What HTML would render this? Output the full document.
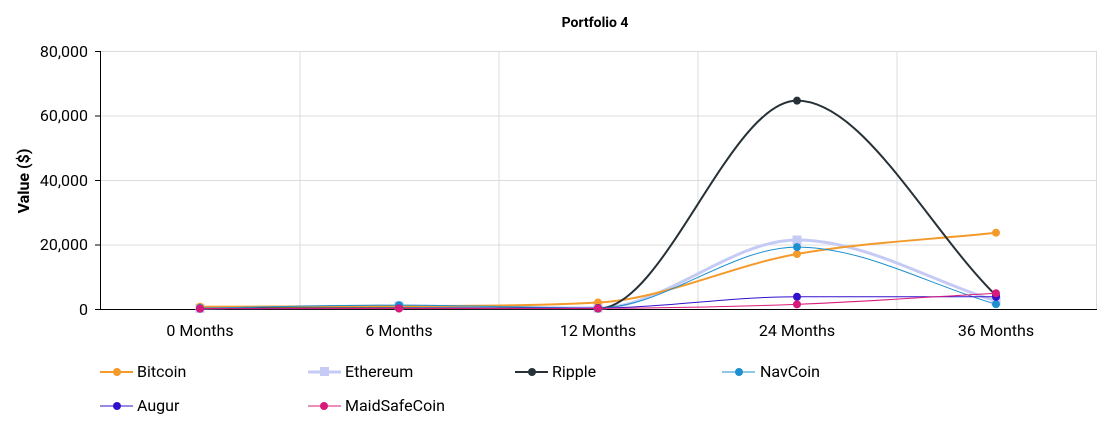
<!DOCTYPE html>
<html><head><meta charset="utf-8"><style>
body{margin:0;background:#fff;}
svg{display:block;font-family:"Roboto","Liberation Sans",sans-serif;}
</style></head><body>
<svg id="s" width="1114" height="434" xmlns="http://www.w3.org/2000/svg">
<text x="595" y="27" text-anchor="middle" font-size="14" font-weight="bold" fill="#000">Portfolio 4</text>
<text transform="translate(29,181) rotate(-90)" text-anchor="middle" font-size="16" font-weight="bold" fill="#000">Value ($)</text>
<g stroke="#dcdcdc" stroke-width="1">
<line x1="100" y1="51.5" x2="1097" y2="51.5"/>
<line x1="100" y1="116" x2="1097" y2="116"/>
<line x1="100" y1="180.5" x2="1097" y2="180.5"/>
<line x1="100" y1="245" x2="1097" y2="245"/>
<line x1="300" y1="51" x2="300" y2="309"/>
<line x1="499" y1="51" x2="499" y2="309"/>
<line x1="698" y1="51" x2="698" y2="309"/>
<line x1="897" y1="51" x2="897" y2="309"/>
<line x1="1096.5" y1="51" x2="1096.5" y2="309"/>
</g>
<g stroke="#000" stroke-width="1">
<line x1="100.5" y1="51" x2="100.5" y2="309.5"/>
<line x1="100" y1="309.5" x2="1097" y2="309.5"/>
<line x1="95" y1="51.5" x2="100" y2="51.5"/>
<line x1="95" y1="116" x2="100" y2="116"/>
<line x1="95" y1="180.5" x2="100" y2="180.5"/>
<line x1="95" y1="245" x2="100" y2="245"/>
<line x1="95" y1="309.5" x2="100" y2="309.5"/>
</g>
<g font-size="16" fill="#000" text-anchor="end">
<text x="88" y="57">80,000</text>
<text x="88" y="121">60,000</text>
<text x="88" y="186">40,000</text>
<text x="88" y="250">20,000</text>
<text x="88" y="315">0</text>
</g>
<g font-size="16" fill="#000" text-anchor="middle">
<text x="200" y="336">0 Months</text>
<text x="399" y="336">6 Months</text>
<text x="598" y="336">12 Months</text>
<text x="797" y="336">24 Months</text>
<text x="996" y="336">36 Months</text>
</g>
<g id="series"></g>
<g font-size="16" fill="#000">
<line x1="100" y1="372" x2="133" y2="372" stroke="#f39a2b" stroke-width="2"/><circle cx="117" cy="372" r="4" fill="#f39a2b"/><text x="137" y="377">Bitcoin</text>
<line x1="308" y1="372" x2="341" y2="372" stroke="#c5cbf5" stroke-width="3"/><rect x="320" y="367" width="9" height="9" fill="#c5cbf5"/><text x="345" y="377">Ethereum</text>
<line x1="515" y1="372" x2="548" y2="372" stroke="#263238" stroke-width="2"/><circle cx="532" cy="372" r="4" fill="#263238"/><text x="552" y="377">Ripple</text>
<line x1="722" y1="372" x2="755" y2="372" stroke="#1e90d0" stroke-width="1"/><circle cx="739" cy="372" r="4" fill="#1e90d0"/><text x="760" y="377">NavCoin</text>
<line x1="100" y1="406" x2="133" y2="406" stroke="#3311cc" stroke-width="1"/><circle cx="117" cy="406" r="4" fill="#3311cc"/><text x="137" y="411">Augur</text>
<line x1="308" y1="406" x2="341" y2="406" stroke="#d81b7a" stroke-width="1"/><circle cx="324" cy="406" r="4" fill="#d81b7a"/><text x="345" y="411">MaidSafeCoin</text>
</g>
</svg>
<script>
var xs=[200,399,598,797,996];
function Y(v){return 309-v*64.5/20000;}
var series=[
 {c:"#c5cbf5",w:3,d:[200,900,300,21400,2500],sq:1},
 {c:"#f39a2b",w:2,d:[700,900,2000,17050,23650]},
 {c:"#263238",w:2,d:[100,200,100,64600,4200]},
 {c:"#1e90d0",w:1,d:[300,1200,300,19200,1500]},
 {c:"#3311cc",w:1,d:[100,200,300,3800,3800]},
 {c:"#d81b7a",w:1,d:[100,150,200,1450,4900]}
];
var g=document.getElementById("series"),h="";
series.forEach(function(s){
 var p=s.d.map(function(v,i){return [xs[i],Y(v)];});
 var n=p.length,dx=199,del=[],m=[];
 for(var i=0;i<n-1;i++)del.push((p[i+1][1]-p[i][1])/dx);
 m[0]=del[0];m[n-1]=del[n-2];
 for(i=1;i<n-1;i++){m[i]=(del[i-1]*del[i]<=0)?0:(del[i-1]+del[i])/2;}
 for(i=0;i<n-1;i++){
  if(del[i]==0){m[i]=0;m[i+1]=0;continue;}
  var a=m[i]/del[i],b=m[i+1]/del[i],t=a*a+b*b;
  if(t>9){var k=3/Math.sqrt(t);m[i]=k*a*del[i];m[i+1]=k*b*del[i];}
 }
 var d="M"+p[0][0]+","+p[0][1];
 for(i=0;i<n-1;i++){
  var h3=dx/3;
  d+=" C"+(p[i][0]+h3)+","+(p[i][1]+m[i]*h3)+" "+(p[i+1][0]-h3)+","+(p[i+1][1]-m[i+1]*h3)+" "+p[i+1][0]+","+p[i+1][1];
 }
 h+='<path d="'+d+'" fill="none" stroke="'+s.c+'" stroke-width="'+s.w+'"/>';
 p.forEach(function(q){
  if(s.sq)h+='<rect x="'+(q[0]-4.5)+'" y="'+(q[1]-4.5)+'" width="9" height="9" fill="'+s.c+'"/>';
  else h+='<circle cx="'+q[0]+'" cy="'+q[1]+'" r="4" fill="'+s.c+'"/>';
 });
});
g.innerHTML=h;
</script>
</body></html>
